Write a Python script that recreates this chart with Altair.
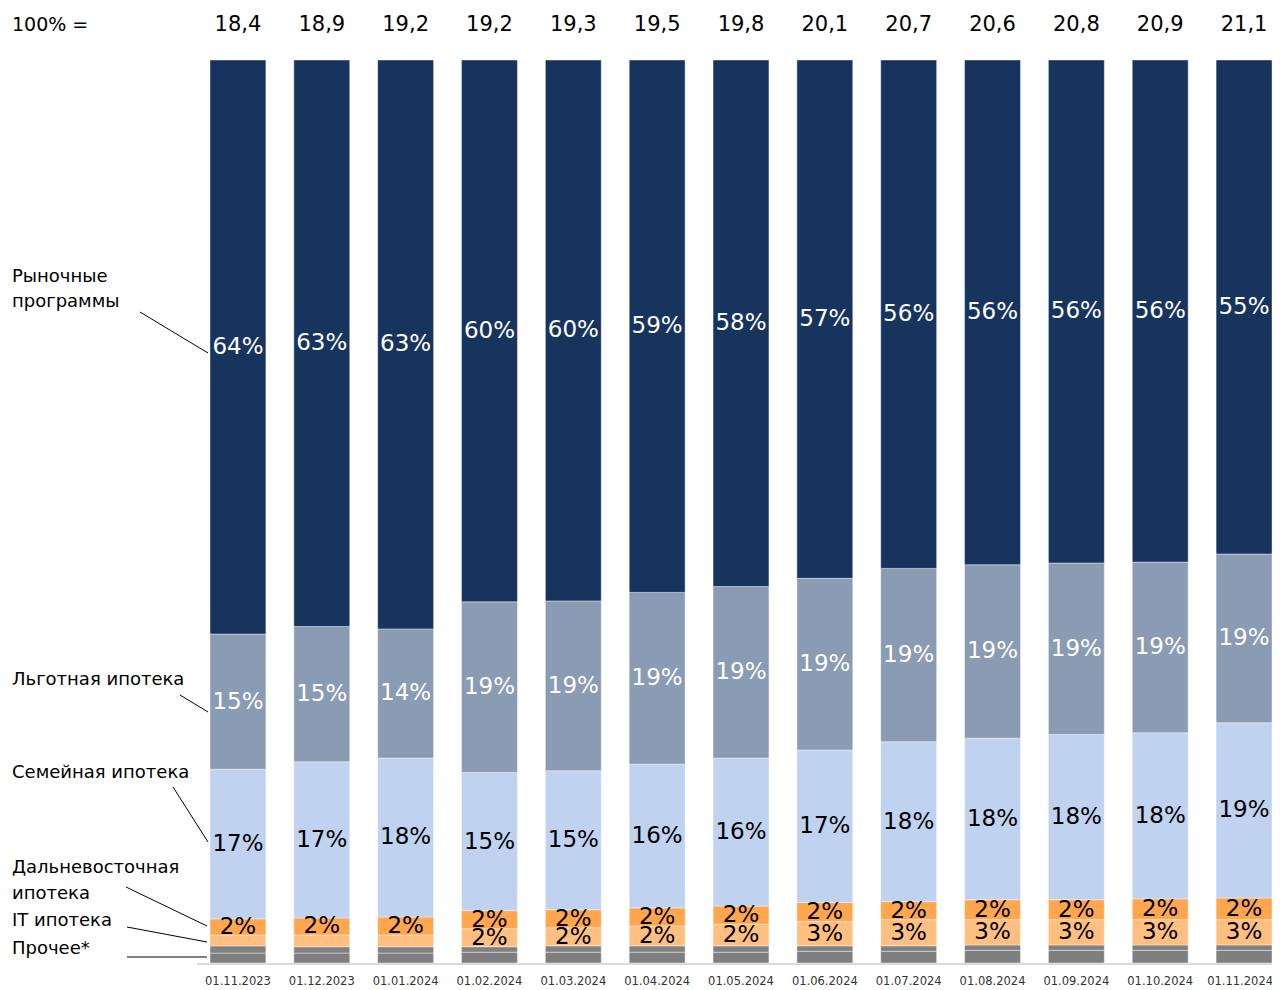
import altair as alt
import pandas as pd

FONT = "DejaVu Sans"

dates = ["01.11.2023", "01.12.2023", "01.01.2024", "01.02.2024", "01.03.2024", "01.04.2024",
         "01.05.2024", "01.06.2024", "01.07.2024", "01.08.2024", "01.09.2024", "01.10.2024", "01.11.2024"]
totals = ["18,4", "18,9", "19,2", "19,2", "19,3", "19,5", "19,8", "20,1", "20,7", "20,6", "20,8", "20,9", "21,1"]

# shares, %  (bottom -> top)
other = [1.1, 1.1, 1.1, 1.2, 1.2, 1.2, 1.2, 1.3, 1.3, 1.4, 1.4, 1.4, 1.4]
other_upper = [0.8, 0.7, 0.7, 0.6, 0.7, 0.7, 0.7, 0.6, 0.6, 0.6, 0.6, 0.6, 0.6]
it_mortgage = [1.2, 1.3, 1.3, 2.0, 2.0, 2.2, 2.4, 2.7, 2.9, 2.8, 2.8, 2.8, 2.8]
far_east = [1.8, 1.9, 2.0, 2.0, 2.0, 2.0, 2.0, 2.1, 2.0, 2.2, 2.2, 2.3, 2.4]
family = [16.6, 17.3, 17.6, 15.3, 15.4, 15.9, 16.4, 16.9, 17.7, 17.9, 18.3, 18.4, 19.4]
preferential = [15.0, 15.0, 14.3, 18.9, 18.8, 19.0, 19.0, 19.0, 19.2, 19.2, 19.0, 18.9, 18.7]
market = [63.7, 62.8, 63.0, 60.0, 59.9, 58.9, 58.3, 57.4, 56.3, 55.9, 55.7, 55.6, 54.7]

series_names = ["Прочее", "Прочее (прочие)", "IT ипотека", "Дальневосточная ипотека",
                "Семейная ипотека", "Льготная ипотека", "Рыночные программы"]
series_values = [other, other_upper, it_mortgage, far_east, family, preferential, market]
series_colors = ["#7F7F7F", "#808080", "#FFBF80", "#FFA64F", "#BFD2EF", "#8A9BB4", "#17345F"]
white_label_series = ["Льготная ипотека", "Рыночные программы"]
no_label_series = ["Прочее", "Прочее (прочие)"]

rows = []
for i, d in enumerate(dates):
    vals = [s[i] for s in series_values]
    tot = sum(vals)
    cum = 0.0
    for name, v in zip(series_names, vals):
        share = v / tot * 100
        rows.append(dict(date=d, series=name, value=v, y0=cum, y1=cum + share,
                         mid=cum + share / 2, label=f"{int(round(v))}%"))
        cum += share
df = pd.DataFrame(rows)
lab = df[(~df.series.isin(no_label_series)) & (df.value >= 1.5)]
lab_white = lab[lab.series.isin(white_label_series)]
lab_black = lab[~lab.series.isin(white_label_series)]
df_tot = pd.DataFrame(dict(date=dates, total=totals))

W, H = 1062, 903
last_test = f"datum.value === '{dates[-1]}'"
x_scale = alt.Scale(paddingInner=1 / 3, paddingOuter=0, round=False)
x_enc = alt.X("date:N", sort=dates, scale=x_scale,
              axis=alt.Axis(title=None, ticks=False, labelAngle=0, labelFontSize=11.5,
                            labelPadding=12, labelColor="#333333", labelFont=FONT,
                            labelAlign={"condition": {"test": last_test, "value": "right"}, "value": "center"},
                            labelOffset={"condition": {"test": last_test, "value": 29}, "value": 0},
                            domain=False, grid=False))
y_scale = alt.Scale(domain=[0, 100], nice=False, zero=True, round=False)

one = pd.DataFrame({"k": [0]})
baseline = alt.Chart(one).mark_rule(color="#D9D9D9", strokeWidth=2).encode(
    x=alt.value(-13), x2=alt.value(W), y=alt.value(H + 1))

bars = alt.Chart(df).mark_bar(stroke="#FFFFFF", strokeWidth=0.8, strokeOpacity=0.5).encode(
    x=x_enc,
    y=alt.Y("y0:Q", scale=y_scale, axis=None),
    y2="y1:Q",
    color=alt.Color("series:N", scale=alt.Scale(domain=series_names, range=series_colors), legend=None),
)

txt_white = alt.Chart(lab_white).mark_text(font=FONT, fontSize=23, color="white", baseline="middle").encode(
    x=alt.X("date:N", sort=dates, scale=x_scale), y=alt.Y("mid:Q", scale=y_scale), text="label:N")
txt_black = alt.Chart(lab_black).mark_text(font=FONT, fontSize=23, color="black", baseline="middle").encode(
    x=alt.X("date:N", sort=dates, scale=x_scale), y=alt.Y("mid:Q", scale=y_scale), text="label:N")

tot_txt = alt.Chart(df_tot).mark_text(font=FONT, fontSize=21, color="black", baseline="middle").encode(
    x=alt.X("date:N", sort=dates, scale=x_scale), y=alt.value(-35), text="total:N")

layers = [baseline, bars, txt_white, txt_black, tot_txt]

layers.append(alt.Chart(one).mark_text(font=FONT, fontSize=19, align="left", baseline="middle",
                                       color="black", text="100% =").encode(
    x=alt.value(-198), y=alt.value(-35)))

ann_texts = ["Рыночные", "программы", "Льготная ипотека", "Семейная ипотека",
             "Дальневосточная", "ипотека", "IT ипотека", "Прочее*"]
ann_y = [217, 242, 620, 713, 808, 834, 861, 889]
for t, yy in zip(ann_texts, ann_y):
    layers.append(alt.Chart(one).mark_text(font=FONT, fontSize=18, align="left", baseline="middle",
                                           color="black", text=t).encode(
        x=alt.value(-198), y=alt.value(yy)))

connectors = [(-70, 252, -2, 293), (-30, 635, -2, 652), (-37, 727, -2, 782),
              (-84, 827, -3, 866), (-83, 867, -3, 882), (-83, 897, -3, 897)]
for (x1, y1, x2, y2) in connectors:
    layers.append(alt.Chart(one).mark_rule(color="black", strokeWidth=1).encode(
        x=alt.value(x1), x2=alt.value(x2), y=alt.value(y1), y2=alt.value(y2)))

chart = alt.layer(*layers).properties(
    width=W, height=H,
    padding={"left": 202, "top": 52, "right": 0, "bottom": 26},
    autosize=alt.AutoSizeParams(type="none"),
    background="white",
).configure_view(stroke=None)

chart.save("out.html", embed_options={"renderer": "svg", "actions": False})
